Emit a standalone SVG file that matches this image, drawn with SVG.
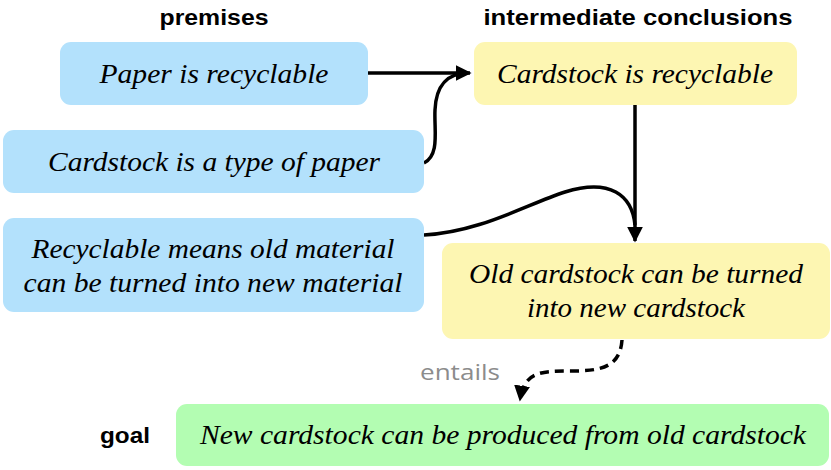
<svg xmlns="http://www.w3.org/2000/svg" width="831" height="470" viewBox="0 0 831 470">
<defs>
<style>
.prem{fill:#b3e1fc}
.inter{fill:#fdf6b2}
.goal{fill:#b3fdb2}
.t{font-family:"Liberation Serif","Times New Roman",serif;font-style:italic;font-size:28px;fill:#000;text-anchor:middle}
.h{font-family:"Liberation Sans",Arial,sans-serif;font-weight:bold;font-size:22px;fill:#000;text-anchor:middle}
.e{font-family:"Open Sans","Liberation Sans",sans-serif;font-size:22px;fill:#8c8c8c;text-anchor:middle}
.c{fill:none;stroke:#000;stroke-width:3.5}
</style>
<marker id="arr" viewBox="0 0 10 10" refX="9" refY="5" markerWidth="16" markerHeight="16" orient="auto" markerUnits="userSpaceOnUse">
<path d="M0,0 L10,5 L0,10 Z" fill="#000"/>
</marker>
</defs>
<g id="headers">
<text class="h" x="214" y="25" textLength="109" lengthAdjust="spacingAndGlyphs">premises</text>
<text class="h" x="638" y="25" textLength="309" lengthAdjust="spacingAndGlyphs">intermediate conclusions</text>
<text class="h" x="125" y="443" textLength="50" lengthAdjust="spacingAndGlyphs">goal</text>
</g>
<g id="connectors">
<path class="c" d="M368,73 L470,73" marker-end="url(#arr)"/>
<path class="c" d="M424,163 C440,155 434,130 435,110 C436,85 448,73 468,73"/>
<path class="c" d="M635,105 L635,241" marker-end="url(#arr)"/>
<path class="c" d="M424,235 C480,232 525,205 565,192 C610,178 632,195 635,225"/>
<path class="c" d="M622,340 C620,368 600,371 570,371 C540,371 524,372 520,400" stroke-dasharray="9,6" marker-end="url(#arr)"/>
<text class="e" x="460" y="380" textLength="80" lengthAdjust="spacingAndGlyphs">entails</text>
</g>
<g id="n1">
<rect class="prem" x="60" y="42" width="308" height="63" rx="11"/>
<text class="t" x="214" y="83" textLength="229" lengthAdjust="spacingAndGlyphs">Paper is recyclable</text>
</g>
<g id="n2">
<rect class="prem" x="3" y="130" width="421" height="63" rx="11"/>
<text class="t" x="214" y="171" textLength="332" lengthAdjust="spacingAndGlyphs">Cardstock is a type of paper</text>
</g>
<g id="n3">
<rect class="prem" x="3" y="218" width="421" height="94" rx="11"/>
<text class="t" x="213" y="258" textLength="363" lengthAdjust="spacingAndGlyphs">Recyclable means old material</text>
<text class="t" x="213" y="292" textLength="379" lengthAdjust="spacingAndGlyphs">can be turned into new material</text>
</g>
<g id="n4">
<rect class="inter" x="474" y="42" width="323" height="63" rx="11"/>
<text class="t" x="635" y="83" textLength="276" lengthAdjust="spacingAndGlyphs">Cardstock is recyclable</text>
</g>
<g id="n5">
<rect class="inter" x="442" y="243" width="388" height="96" rx="11"/>
<text class="t" x="636" y="283" textLength="334" lengthAdjust="spacingAndGlyphs">Old cardstock can be turned</text>
<text class="t" x="636" y="317" textLength="218" lengthAdjust="spacingAndGlyphs">into new cardstock</text>
</g>
<g id="n6">
<rect class="goal" x="176" y="404" width="653" height="62" rx="11"/>
<text class="t" x="503" y="444" textLength="606" lengthAdjust="spacingAndGlyphs">New cardstock can be produced from old cardstock</text>
</g>
</svg>
